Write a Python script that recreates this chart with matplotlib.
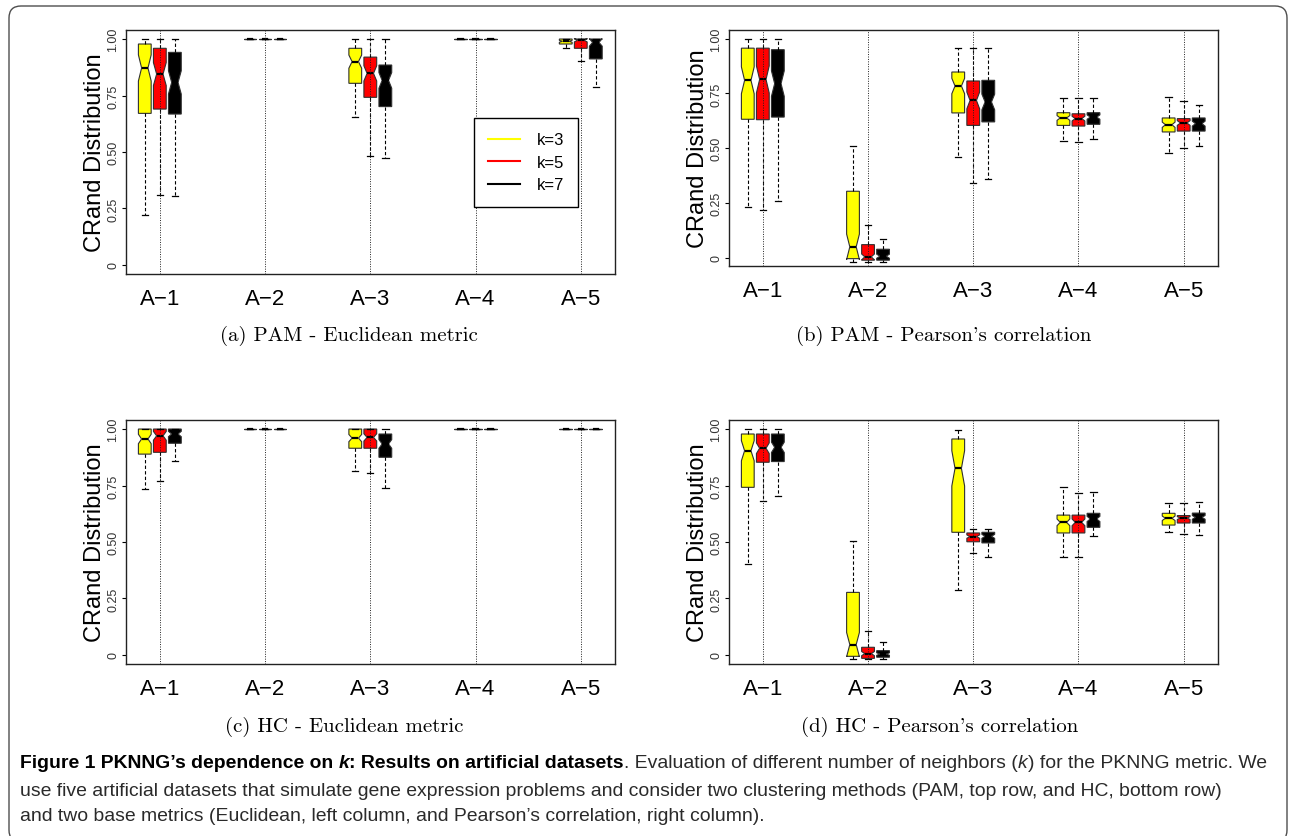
import numpy as np
import matplotlib.pyplot as plt
from matplotlib import font_manager
from matplotlib.patches import FancyBboxPatch
from matplotlib.lines import Line2D

W, H = 1295, 837

datasets = ['A\u22121', 'A\u22122', 'A\u22123', 'A\u22124', 'A\u22125']
k_labels = ['k=3', 'k=5', 'k=7']
k_colors = ['#ffff00', '#ff0000', '#000000']
n_runs = 70  # runs per box, only used for the notch size

# rows: A-1 (k=3,5,7), A-2 (k=3,5,7), ...   cols: lower whisker, Q1, median, Q3, upper whisker
pam_euc = [
    [0.223, 0.671, 0.872, 0.978, 1.0], [0.311, 0.690, 0.845, 0.959, 1.0], [0.307, 0.668, 0.808, 0.941, 1.0],
    [1.0, 1.0, 1.0, 1.0, 1.0], [1.0, 1.0, 1.0, 1.0, 1.0], [1.0, 1.0, 1.0, 1.0, 1.0],
    [0.654, 0.804, 0.900, 0.959, 1.0], [0.484, 0.742, 0.848, 0.920, 1.0], [0.473, 0.701, 0.817, 0.885, 1.0],
    [1.0, 1.0, 1.0, 1.0, 1.0], [1.0, 1.0, 1.0, 1.0, 1.0], [1.0, 1.0, 1.0, 1.0, 1.0],
    [0.960, 0.978, 0.990, 1.0, 1.0], [0.901, 0.959, 0.995, 1.0, 1.0], [0.786, 0.912, 0.985, 1.0, 1.0],
]
pam_pear = [
    [0.231, 0.632, 0.810, 0.957, 1.0], [0.216, 0.630, 0.814, 0.957, 1.0], [0.257, 0.642, 0.795, 0.950, 1.0],
    [-0.020, -0.005, 0.049, 0.303, 0.510], [-0.020, -0.012, 0.003, 0.059, 0.148], [-0.020, -0.012, 0.006, 0.038, 0.084],
    [0.460, 0.661, 0.784, 0.848, 0.959], [0.342, 0.604, 0.718, 0.807, 0.959], [0.358, 0.620, 0.711, 0.810, 0.959],
    [0.533, 0.604, 0.638, 0.662, 0.729], [0.528, 0.601, 0.635, 0.657, 0.729], [0.540, 0.609, 0.642, 0.662, 0.729],
    [0.479, 0.574, 0.607, 0.638, 0.734], [0.501, 0.578, 0.615, 0.635, 0.716], [0.510, 0.578, 0.612, 0.638, 0.696],
]
hc_euc = [
    [0.735, 0.889, 0.956, 1.0, 1.0], [0.769, 0.897, 0.970, 1.0, 1.0], [0.857, 0.937, 0.978, 1.0, 1.0],
    [1.0, 1.0, 1.0, 1.0, 1.0], [1.0, 1.0, 1.0, 1.0, 1.0], [1.0, 1.0, 1.0, 1.0, 1.0],
    [0.813, 0.915, 0.960, 1.0, 1.0], [0.805, 0.915, 0.963, 1.0, 1.0], [0.738, 0.875, 0.934, 0.978, 1.0],
    [1.0, 1.0, 1.0, 1.0, 1.0], [1.0, 1.0, 1.0, 1.0, 1.0], [1.0, 1.0, 1.0, 1.0, 1.0],
    [1.0, 1.0, 1.0, 1.0, 1.0], [1.0, 1.0, 1.0, 1.0, 1.0], [1.0, 1.0, 1.0, 1.0, 1.0],
]
hc_pear = [
    [0.403, 0.742, 0.904, 0.978, 1.0], [0.683, 0.853, 0.915, 0.978, 1.0], [0.705, 0.856, 0.919, 0.978, 1.0],
    [-0.018, -0.006, 0.046, 0.277, 0.506], [-0.018, -0.015, 0.006, 0.034, 0.108], [-0.020, -0.010, 0.004, 0.019, 0.059],
    [0.289, 0.543, 0.826, 0.956, 0.997], [0.450, 0.501, 0.524, 0.540, 0.558], [0.435, 0.496, 0.525, 0.543, 0.558],
    [0.435, 0.540, 0.587, 0.619, 0.742], [0.435, 0.540, 0.587, 0.619, 0.715], [0.525, 0.565, 0.602, 0.627, 0.720],
    [0.543, 0.575, 0.605, 0.627, 0.671], [0.535, 0.584, 0.606, 0.617, 0.671], [0.531, 0.584, 0.609, 0.628, 0.676],
]

subcaptions = ['(a) PAM - Euclidean metric', "(b) PAM - Pearson's correlation",
               '(c) HC - Euclidean metric', "(d) HC - Pearson's correlation"]

caption_lines = [
    [('Figure 1 PKNNG\u2019s dependence on', 'bold', 'normal', False),
     ('k', 'bold', 'italic', True),
     (': Results on artificial datasets', 'bold', 'normal', False),
     ('. Evaluation of different number of neighbors (', 'normal', 'normal', False),
     ('k', 'normal', 'italic', False),
     (') for the PKNNG metric. We', 'normal', 'normal', False)],
    [('use five artificial datasets that simulate gene expression problems and consider two clustering '
      'methods (PAM, top row, and HC, bottom row)', 'normal', 'normal', False)],
    [('and two base metrics (Euclidean, left column, and Pearson\u2019s correlation, right column).',
      'normal', 'normal', False)],
]

plt.rcParams['font.family'] = ['Liberation Sans', 'DejaVu Sans']
names = {f.name for f in font_manager.fontManager.ttflist}
cap_font = 'Liberation Sans Narrow' if 'Liberation Sans Narrow' in names else 'Liberation Sans'

fig = plt.figure(figsize=(W / 100, H / 100), dpi=100)

# rounded frame round the whole figure (pixel coords)
frame = FancyBboxPatch((9, -6), 1278, 836, boxstyle='round,pad=0,rounding_size=12',
                       transform=None, facecolor='none', edgecolor='#4d4d4d', linewidth=1.0)
fig.add_artist(frame)

# left, top, right, bottom in pixels; subcaption centre
layout = [
    (pam_euc, (126, 31, 614.6, 275), (349, 336)),
    (pam_pear, (729, 31, 1217.5, 267.3), (944, 336)),
    (hc_euc, (126, 421, 614.6, 665), (344, 727)),
    (hc_pear, (729, 421, 1217.5, 665), (940, 727)),
]

positions = [7 * (j // 3) + j % 3 + 1 for j in range(15)]
mids = positions[1::3]

for p, (data, (l, t, r, b), (cx, cy)) in enumerate(layout):
    ax = fig.add_axes([l / W, 1 - b / H, (r - l) / W, (b - t) / H])
    stats = []
    for lo, q1, med, q3, hi in data:
        nh = 1.58 * (q3 - q1) / np.sqrt(n_runs)
        stats.append(dict(med=med, q1=q1, q3=q3, whislo=lo, whishi=hi,
                          cilo=med - nh, cihi=med + nh, fliers=[]))
    bp = ax.bxp(stats, positions=positions, widths=0.85, shownotches=True,
                patch_artist=True, showfliers=False, manage_ticks=False,
                boxprops=dict(edgecolor='#303030', linewidth=0.8),
                medianprops=dict(color='black', linewidth=1.6),
                whiskerprops=dict(color='black', linestyle=(0, (3, 2)), linewidth=0.8),
                capprops=dict(color='black', linewidth=0.9))
    for j, box in enumerate(bp['boxes']):
        box.set_facecolor(k_colors[j % 3])
    for m in mids:
        ax.axvline(m, color='#202020', linestyle=(0, (1, 1.5)), linewidth=0.7, zorder=3)

    ax.set_xlim(-0.25, 32.25)
    ax.set_ylim(-0.04, 1.04)
    ax.set_xticks(mids, datasets)
    ax.tick_params(axis='x', length=0, pad=10, labelsize=16)
    ax.set_yticks([0, 0.25, 0.5, 0.75, 1.0], ['0', '0.25', '0.50', '0.75', '1.00'])
    ax.tick_params(axis='y', length=3, pad=2, labelsize=9, labelcolor='#333333')
    for lab in ax.get_yticklabels():
        lab.set_rotation(90)
        lab.set_va('center')
    for s in ax.spines.values():
        s.set_linewidth(1.0)
        s.set_color('#222222')
    ax.set_ylabel('CRand Distribution', fontsize=17)
    ax.yaxis.label.set_va('center')
    ax.yaxis.set_label_coords(-31 / (r - l), 0.5)

    fig.text(cx / W, 1 - cy / H, subcaptions[p], ha='center', va='center',
             family=['cmr10', 'DejaVu Serif'], fontsize=15)

    if p == 0:
        handles = [Line2D([], [], color=c, linewidth=1.5) for c in k_colors]
        x0 = (578 - l) / (r - l)
        y0 = (b - 119.3) / (b - t)
        leg = ax.legend(handles, k_labels, loc='upper right', bbox_to_anchor=(x0, y0),
                        fontsize=12, handlelength=1.9, handletextpad=1.0, borderpad=0.85,
                        labelspacing=0.45, fancybox=False, framealpha=1, borderaxespad=0)
        leg.get_frame().set_edgecolor('black')
        leg.get_frame().set_linewidth(1.0)

# figure caption, drawn piece by piece to mix bold and italic
renderer = fig.canvas.get_renderer()


def text_width(s, size, weight, style):
    t = fig.text(0.5, 0.5, s, fontsize=size, fontweight=weight, fontstyle=style, family=cap_font)
    w = t.get_window_extent(renderer).width
    t.remove()
    return w


def put_line(x, y, runs, size):
    space = text_width('x x', size, 'normal', 'normal') - text_width('xx', size, 'normal', 'normal')
    made = []
    for s, weight, style, gap in runs:
        if gap:
            x += space
        t = fig.text(x / W, 1 - y / H, s, fontsize=size, fontweight=weight, fontstyle=style,
                     family=cap_font, va='baseline', ha='left',
                     color='black' if weight == 'bold' else '#2a2a2a')
        x += t.get_window_extent(renderer).width
        made.append(t)
    return x, made


# size the caption so that its first line fills the frame width
size0 = 14
end, trial = put_line(20, 400, caption_lines[0], size0)
for t in trial:
    t.remove()
cap_size = size0 * (1272 - 20) / (end - 20)
for line, y in zip(caption_lines, [768, 796, 821]):
    put_line(20, y, line, cap_size)

fig.savefig('out.png', dpi=100)
